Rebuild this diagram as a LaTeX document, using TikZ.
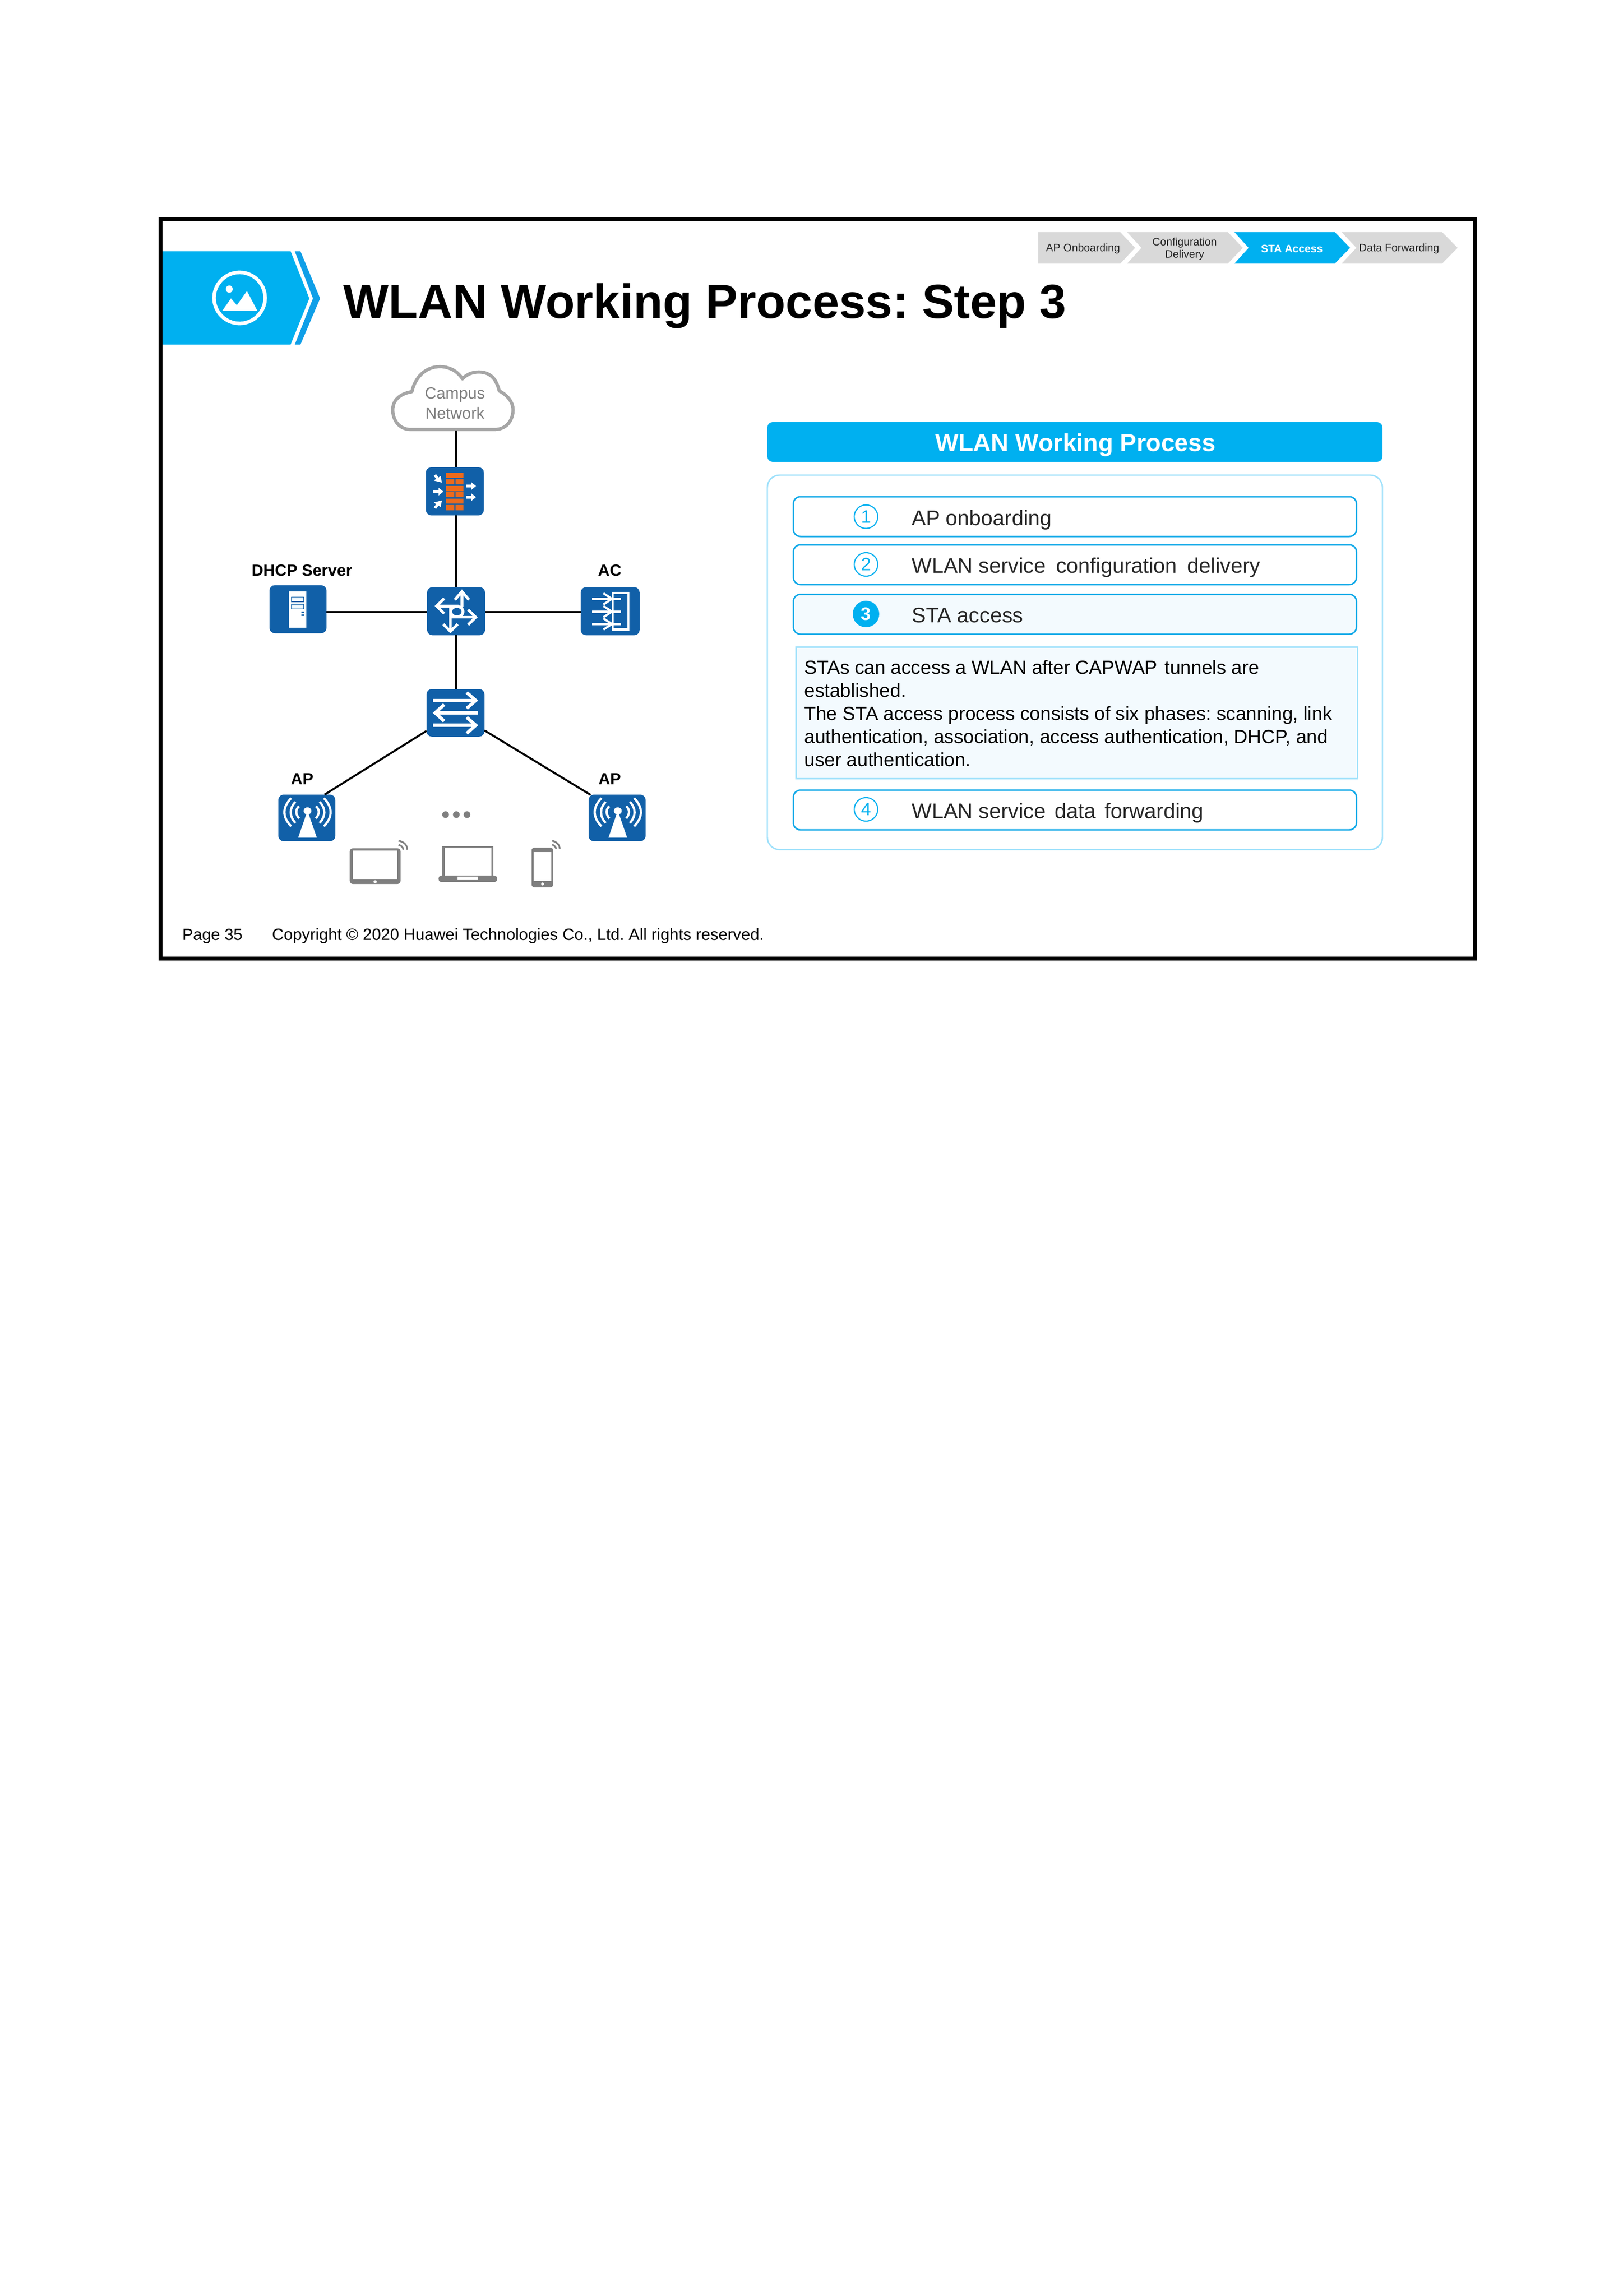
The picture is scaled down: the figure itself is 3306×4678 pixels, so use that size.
\documentclass[tikz,border=0pt]{standalone}
\usepackage{fontspec}
\setmainfont{Liberation Sans}
\frenchspacing
\usetikzlibrary{calc}
\definecolor{hwcyan}{HTML}{00B0F0}
\definecolor{hwchev}{HTML}{0F9FE8}
\definecolor{hwlight}{HTML}{9FE1FB}
\definecolor{hwpale}{HTML}{F3FAFE}
\definecolor{hwrow}{HTML}{12A9E8}
\definecolor{hwdev}{HTML}{1160A8}
\definecolor{hworange}{HTML}{EC6A1C}
\definecolor{hwgrey}{HTML}{7F7F7F}
\definecolor{hwcloud}{HTML}{A6A6A6}
\definecolor{hwcrumb}{HTML}{D9D9D9}
\definecolor{hwink}{HTML}{262626}
\newcommand{\fs}[1]{\fontsize{#1}{#1}\selectfont}
\tikzset{
  x=0.24pt,y=-0.24pt,
  txt/.style={inner sep=0pt,outer sep=0pt},
  crumb/.style={fill=hwcrumb,draw=none},
  crumbtxt/.style={txt,align=center,font=\fontsize{5.3}{6.1}\selectfont,text=black!85},
  link/.style={draw=black,line width=0.96pt},
  devicebox/.style n args={2}{fill=hwdev,draw=none,rounded corners=2.6pt,inner sep=0pt,outer sep=0pt,minimum width=#1*0.24pt,minimum height=#2*0.24pt},
  rowbox/.style={draw=hwrow,line width=0.72pt,rounded corners=3.4pt,inner sep=0pt,minimum width=1147*0.24pt,minimum height=81*0.24pt},
  rowtxt/.style={txt,anchor=base west,font=\fs{10.35},text=hwink},
  badge/.style={circle,draw=hwcyan,line width=0.55pt,inner sep=0pt,minimum size=48*0.24pt,text=hwcyan,font=\fs{8.8}},
  label/.style={txt,anchor=base,font=\bfseries\fs{7.9},text=black},
  wh/.style={draw=white,line width=1.35pt,miter limit=10},
  zoomA/.style={shift={(480,720)},x=0.13777pt,y=-0.09185pt},
  zoomB/.style={shift={(480,1320)},x=0.13777pt,y=-0.09185pt},
}
\newcommand{\apicon}[1]{%
  \begin{scope}[shift={(#1,0)}]
    \fill[white] (222,1010) -- (252,880) -- (258,880) -- (288,1010) -- cycle;
    \fill[white] (255,868) ellipse [x radius=14,y radius=19];
    \draw[white,line width=1.1pt] (197,800) .. controls (165,850) and (165,900) .. (197,950);
    \draw[white,line width=1.1pt] (212,820) .. controls (190,855) and (190,895) .. (212,932);
    \draw[white,line width=1.1pt] (225,843) .. controls (212,860) and (212,885) .. (225,908);
    \draw[white,line width=1.1pt] (313,800) .. controls (345,850) and (345,900) .. (313,950);
    \draw[white,line width=1.1pt] (298,820) .. controls (320,855) and (320,895) .. (298,932);
    \draw[white,line width=1.1pt] (285,843) .. controls (298,860) and (298,885) .. (285,908);
  \end{scope}}
\begin{document}
\begin{tikzpicture}
\useasboundingbox (0,0) rectangle (3306,4678);
\fill[white] (0,0) rectangle (3306,4678);

% banner
\fill[hwcyan] (331,512) -- (592,512) -- (630,608) -- (592,702) -- (331,702) -- cycle;
\fill[hwchev] (600.5,512) -- (612,512) -- (652,608) -- (612,702) -- (600.5,702) -- (637.5,608) -- cycle;
\draw[white,line width=1.75pt] (488,607) ellipse [x radius=52,y radius=52];
\fill[white] (467,589) ellipse [x radius=7,y radius=7.5];
\fill[white] (453,633) -- (470.5,608) -- (482.5,622) -- (503,593) -- (524,633) -- cycle;
\node[txt,anchor=base west,font=\bfseries\fs{23.5},text=black] (title) at (699.5,648) {WLAN Working Process: Step 3};

% breadcrumb
\fill[crumb] (2114.5,473) -- (2282,473) -- (2312,505) -- (2282,537) -- (2114.5,537) -- cycle;
\fill[crumb] (2296,473) -- (2501,473) -- (2531.5,505) -- (2501,537) -- (2296,537) -- (2325,505) -- cycle;
\fill[hwcyan] (2514.5,473) -- (2719,473) -- (2750,505) -- (2719,537) -- (2514.5,537) -- (2543.5,505) -- cycle;
\fill[crumb] (2733,473) -- (2937.5,473) -- (2969,505) -- (2937.5,537) -- (2733,537) -- (2763,505) -- cycle;
\node[crumbtxt] (c1) at (2206,507) {AP Onboarding};
\node[crumbtxt] (c2) at (2413,507) {Configuration\\Delivery};
\node[crumbtxt,text=white,font=\bfseries\fontsize{5.3}{6.1}\selectfont] (c3) at (2631.5,507) {STA Access};
\node[crumbtxt] (c4) at (2850,507) {Data Forwarding};

% devices
\coordinate (hub) at (929,1247);
\node[txt,minimum width=250*0.24pt,minimum height=132*0.24pt] (cloud) at (926.6,811) {};
\node[devicebox={118}{98}] (fw) at (926.6,1001) {};
\node[devicebox={118}{98}] (router) at (929,1245.3) {};
\node[devicebox={116}{98}] (dhcp) at (607,1241.3) {};
\node[devicebox={120}{98}] (ac) at (1242.8,1245.3) {};
\node[devicebox={118}{97}] (sw) at (927.8,1452.3) {};
\node[devicebox={116}{95}] (apl) at (625,1666.5) {};
\node[devicebox={116}{95}] (apr) at (1257,1666.5) {};
\coordinate (aplink) at (661,1619);
\coordinate (aprlink) at (1203,1619.5);

\draw[draw=hwcloud,line width=1.6pt,line join=round,fill=white]
  (836,875) -- (1008,875)
  .. controls (1030,875) and (1045,858) .. (1045,835)
  .. controls (1045,818) and (1032,804) .. (1017,796.5)
  .. controls (1011,773) and (1000,758) .. (975,758)
  .. controls (962,758) and (950,763) .. (942,772)
  .. controls (932,756) and (915,747) .. (896,747)
  .. controls (866,747) and (845,770) .. (839,798)
  .. controls (815,802) and (800,815) .. (800,835)
  .. controls (800,858) and (815,875) .. (836,875) -- cycle;
\node[txt,align=center,font=\fontsize{7.9}{10}\selectfont,text=hwgrey] (cloudtxt) at (926.6,821.5) {Campus\\Network};

\draw[link] (hub |- cloud.south) -- (hub |- fw.north);
\draw[link] (hub |- fw.south) -- (hub |- router.north);
\draw[link] (hub |- router.south) -- (hub |- sw.north);
\draw[link] (hub -| dhcp.east) -- (hub -| router.west);
\draw[link] (hub -| router.east) -- (hub -| ac.west);
\draw[link] (sw) -- (aplink);
\draw[link] (sw) -- (aprlink);

\node[label] (ldhcp) at (615,1173) {DHCP Server};
\node[label] (lac) at (1242,1173) {AC};
\node[label] (lapl) at (615.5,1598) {AP};
\node[label] (lapr) at (1242,1598) {AP};

% icons, drawn in the upper crop's coordinates
\begin{scope}[zoomA]
  % firewall
  \fill[hworange] (746,635) rectangle (808,665);
  \fill[hworange] (746,670) rectangle (776,697) (780,670) rectangle (808,697);
  \fill[hworange] (746,705) rectangle (808,733);
  \fill[hworange] (746,738) rectangle (776,765) (780,738) rectangle (808,765);
  \fill[hworange] (746,773) rectangle (808,800);
  \fill[hworange] (746,807) rectangle (776,835) (780,807) rectangle (808,835);
  \fill[white] (700,728) -- (720,728) -- (720,715) -- (737,736) -- (720,757) -- (720,744) -- (700,744) -- cycle;
  \fill[white] (818,699) -- (836,699) -- (836,686) -- (853,706) -- (836,727) -- (836,714) -- (818,714) -- cycle;
  \fill[white] (818,758) -- (836,758) -- (836,745) -- (853,765) -- (836,786) -- (836,773) -- (818,773) -- cycle;
  \fill[white] (703,652) -- (711,643) -- (720,661) -- (727,652) -- (732,688) -- (703,677) -- (712,668) -- cycle;
  \fill[white] (703,819) -- (711,828) -- (720,810) -- (727,819) -- (732,783) -- (703,794) -- (712,803) -- cycle;
  % server
  \fill[white] (190,1267) rectangle (250,1460);
  \draw[hwdev,line width=0.4pt,fill=hwpale] (198,1297) rectangle (242,1322);
  \draw[hwdev,line width=0.4pt,fill=hwpale] (198,1335) rectangle (242,1360);
  \fill[hwdev] (233,1374) rectangle (243,1382) (233,1390) rectangle (243,1398);
  % router
  \draw[wh] (803,1350) -- (803,1268);
  \draw[wh] (778,1312) -- (803,1268) -- (828,1312);
  \draw[wh] (790,1345) -- (713,1345);
  \draw[wh] (740,1305) -- (713,1345) -- (740,1385);
  \draw[wh] (762,1405) -- (852,1405);
  \draw[wh] (825,1365) -- (852,1405) -- (825,1445);
  \draw[wh] (762,1345) -- (762,1480);
  \draw[wh] (737,1442) -- (762,1480) -- (788,1442);
  \draw[wh] (785,1375) ellipse [x radius=22,y radius=28];
  % controller
  \draw[white,line width=1pt] (1338,1276) -- (1393,1276) -- (1393,1470) -- (1338,1470) -- cycle;
  \foreach \yy in {1307,1375,1441}{
    \draw[white,line width=1.15pt] (1265,\yy) -- (1368,\yy);
    \draw[white,line width=1.05pt] (1305,\yy-30) -- (1335,\yy) -- (1305,\yy+30);
  }
\end{scope}
\begin{scope}[zoomB]
  % switch
  \draw[wh,line width=1.6pt] (700,280) -- (852,280);
  \draw[wh,line width=1.6pt] (820,238) -- (852,280) -- (820,322);
  \draw[wh,line width=1.6pt] (860,346) -- (708,346);
  \draw[wh,line width=1.6pt] (740,302) -- (708,346) -- (740,390);
  \draw[wh,line width=1.6pt] (700,412) -- (852,412);
  \draw[wh,line width=1.6pt] (820,370) -- (852,412) -- (820,455);
  \apicon{0}
  \apicon{1101}
  % dots
  \fill[hwgrey] (745,888) ellipse [x radius=12,y radius=18];
  \fill[hwgrey] (783,888) ellipse [x radius=12,y radius=18];
  \fill[hwgrey] (821,888) ellipse [x radius=12,y radius=18];
  % tablet
  \fill[hwgrey,rounded corners=1.5pt] (405,1067) rectangle (585,1257);
  \fill[white] (417,1080) rectangle (573,1233);
  \fill[white] (495,1245) ellipse [x radius=6,y radius=8];
  \draw[hwgrey,line width=0.8pt] (578,1027) .. controls (598,1032) and (609,1050) .. (609,1075);
  \draw[hwgrey,line width=0.8pt] (578,1048) .. controls (588,1052) and (595,1062) .. (595,1075);
  % laptop
  \fill[hwgrey] (733,1055) rectangle (915,1215);
  \fill[white] (742,1066) rectangle (908,1212);
  \fill[hwgrey,rounded corners=1.5pt] (720,1212) rectangle (928,1247);
  \fill[white] (788,1217) rectangle (860,1237);
  % phone
  \fill[hwgrey,rounded corners=1.5pt] (1050,1063) rectangle (1127,1275);
  \fill[white] (1058,1087) rectangle (1120,1240);
  \fill[white] (1089,1257) ellipse [x radius=5,y radius=8];
  \draw[hwgrey,line width=0.8pt] (1123,1027) .. controls (1140,1032) and (1150,1050) .. (1150,1070);
  \draw[hwgrey,line width=0.8pt] (1123,1047) .. controls (1130,1052) and (1137,1060) .. (1137,1070);
\end{scope}

% right panel
\node[fill=hwcyan,rounded corners=2.6pt,inner sep=0pt,minimum width=1253*0.24pt,minimum height=81*0.24pt] (head) at (2189.5,900.5) {};
\node[txt,anchor=base,font=\bfseries\fs{12},text=white] (headtxt) at (2190.7,919) {WLAN Working Process};
\node[draw=hwlight,line width=0.7pt,rounded corners=6pt,inner sep=0pt,minimum width=1253*0.24pt,minimum height=763*0.24pt] (panel) at (2189.5,1349.5) {};

\node[rowbox] (r1) at (2189.5,1052.5) {};
\node[rowbox] (r2) at (2189.5,1150.5) {};
\node[rowbox,fill=hwpale] (r3) at (2189.5,1251.5) {};
\node[rowbox] (r4) at (2189.5,1650.3) {};
\node[badge] (b1) at (1764,1052.7) {1};
\node[badge] (b2) at (1764,1150) {2};
\node[badge,fill=hwcyan,minimum size=54*0.24pt,draw=none,text=white,font=\bfseries\fs{8.8}] (b3) at (1764,1251) {3};
\node[badge] (b4) at (1764,1649) {4};
\node[rowtxt] (t1) at (1857.3,1070) {AP onboarding};
\node[rowtxt] (t2) at (1857.3,1167) {WLAN service~\hspace{0.2em}configuration~\hspace{0.2em}delivery};
\node[rowtxt] (t3) at (1857.3,1268) {STA access};
\node[rowtxt] (t4) at (1857.3,1667.7) {WLAN service~\hspace{0.14em}data~\hspace{0.14em}forwarding};

\node[draw=hwlight,fill=hwpale,line width=0.7pt,inner sep=0pt,minimum width=1143.5*0.24pt,minimum height=268.7*0.24pt] (detail) at (2193.3,1452.4) {};
\node[txt,anchor=north west,align=left,font=\fontsize{9.33}{11.28}\selectfont,text=black] (dtxt) at (1638.5,1345)
  {STAs can access a WLAN after CAPWAP~\hspace{0.1em}tunnels are\\established.\\The STA access process consists of six phases: scanning, link\\authentication, association, access authentication, DHCP, and\\user authentication.};

% footer
\node[txt,anchor=base west,font=\fs{7.9},text=black] (page) at (371.4,1915) {Page 35};
\node[txt,anchor=base west,font=\fs{7.98},text=black] (copy) at (554,1915) {Copyright © 2020 Huawei Technologies Co., Ltd. All rights reserved.};

% frame
\draw[black,line width=1.7pt] (327,447) rectangle (3004,1953);
\end{tikzpicture}
\end{document}
